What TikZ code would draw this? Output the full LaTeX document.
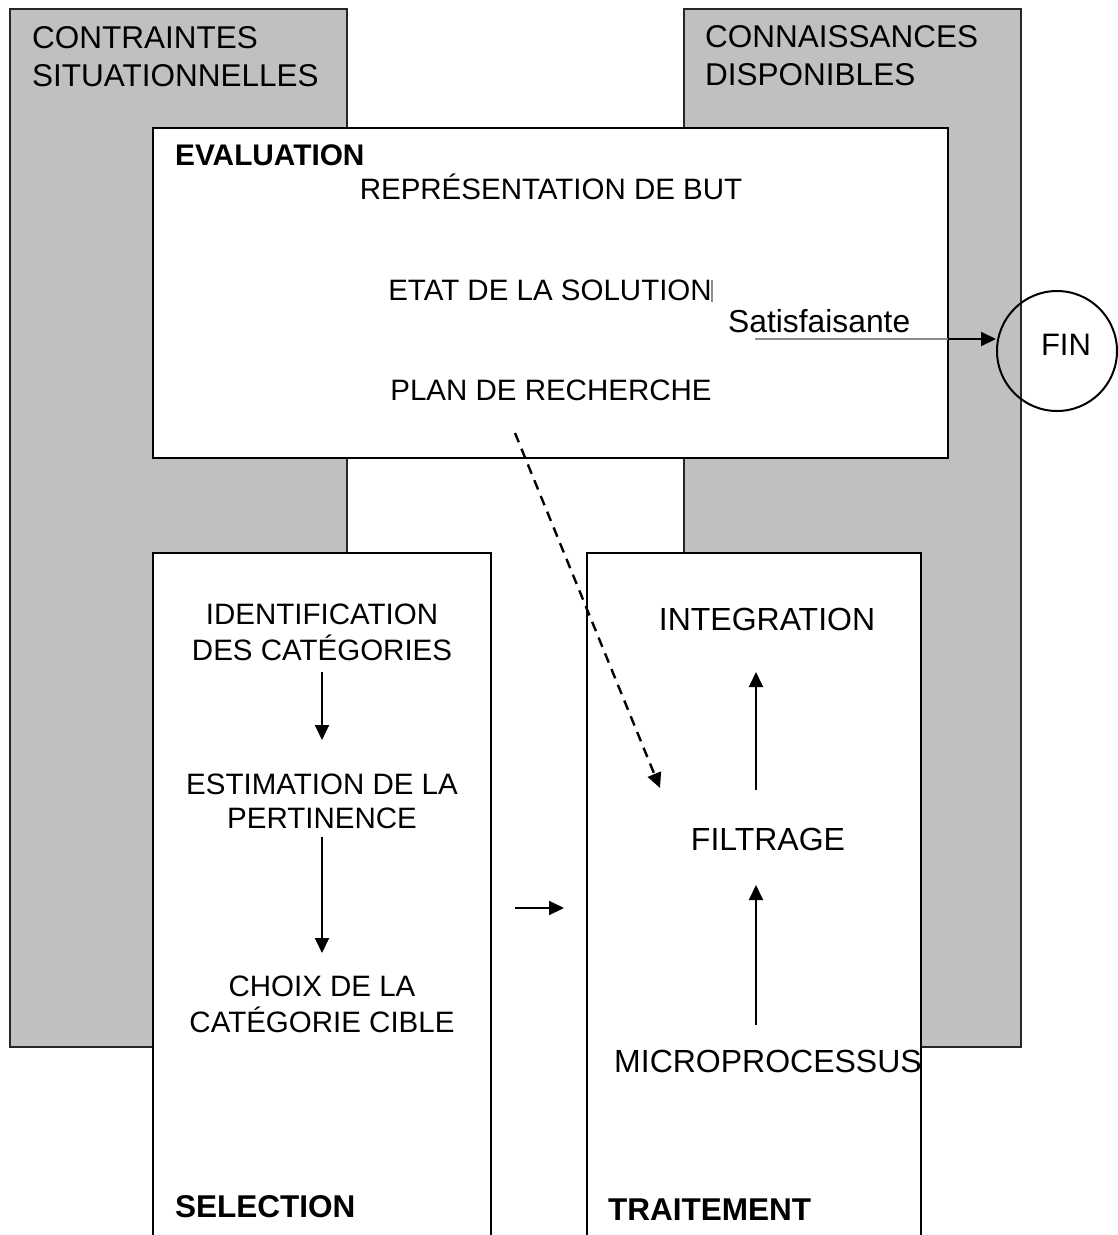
\documentclass[tikz,border=0pt]{standalone}
\usepackage{fontspec}
\setmainfont{Liberation Sans}
\usetikzlibrary{arrows.meta}
\definecolor{graybg}{HTML}{C0C0C0}
\definecolor{thingray}{HTML}{8C8C8C}
\newcommand{\twolines}[2]{\begin{tabular}[b]{@{}c@{}}#1\\#2\end{tabular}}
\begin{document}
\begin{tikzpicture}[x=1pt,y=-1pt,
  graybox/.style={draw=black!85,fill=graybg,line width=2pt},
  whitebox/.style={draw=black,fill=white,line width=2.2pt},
  lbl/.style={font=\fontsize{29.5}{33.5}\selectfont,inner sep=0pt,anchor=base},
  tlbl/.style={font=\fontsize{32}{36}\selectfont,inner sep=0pt,anchor=base},
  biglbl/.style={font=\fontsize{31.5}{38.5}\selectfont,inner sep=0pt,anchor=base west},
  ttl/.style={font=\fontsize{31.5}{36}\selectfont\bfseries,inner sep=0pt,anchor=base west},
  arr/.style={-{Triangle[length=15pt,width=14pt]},line width=2pt}
]
\useasboundingbox (0,0) rectangle (1118,1235);
% gray frames
\draw[graybox] (10,9) rectangle (347,1047);
\draw[graybox] (684,9) rectangle (1021,1047);
\node[biglbl] (cs1) at (32,48) {CONTRAINTES};
\node[biglbl] (cs2) at (32,86) {SITUATIONNELLES};
\node[biglbl] (cd1) at (705,47) {CONNAISSANCES};
\node[biglbl] (cd2) at (705,85) {DISPONIBLES};
% evaluation box
\draw[whitebox] (153,128) rectangle (948,458);
\node[lbl,anchor=base west,font=\fontsize{29.8}{33.5}\selectfont\bfseries] (eval) at (175,165) {EVALUATION};
\node[lbl] (but) at (551,199) {REPRÉSENTATION DE BUT};
\node[lbl] (etat) at (550,300) {ETAT DE LA SOLUTION};
\node[lbl] (plan) at (551,400) {PLAN DE RECHERCHE};
\node[inner sep=0pt,font=\fontsize{31.8}{36}\selectfont,anchor=base west] (sat) at (728,332) {Satisfaisante};
\draw[thingray,line width=1.2pt] (712,280) -- (712,302);
% FIN
\node[draw,circle,line width=2pt,minimum size=120pt,inner sep=0pt] (fin) at (1057,351) {};
\node[lbl,font=\fontsize{31}{36}\selectfont] (fint) at (1066,355) {FIN};
\coordinate (satstart) at (755,339);
\coordinate (satmid) at (948,339);
\draw[thingray,line width=1.5pt] (satstart) -- (satmid);
\draw[arr] (satmid) -- (fin.west |- satmid);
% selection box
\fill[white] (153,553) rectangle (491,1235);
\draw[line width=2.2pt] (153,1236) -- (153,553) -- (491,553) -- (491,1236);
% traitement box
\fill[white] (587,553) rectangle (921,1235);
\draw[line width=2.2pt] (587,1236) -- (587,553) -- (921,553) -- (921,1236);
% selection texts
\node[lbl] (ident) at (322,660) {\twolines{IDENTIFICATION}{DES CATÉGORIES}};
\node[lbl] (estim) at (322,828) {\twolines{ESTIMATION DE LA}{PERTINENCE}};
\node[lbl] (choix) at (322,1032) {\twolines{CHOIX DE LA}{CATÉGORIE CIBLE}};
\node[ttl] (sel) at (175,1217) {SELECTION};
\coordinate (a1s) at (322,672); \coordinate (a1e) at (322,740);
\coordinate (a2s) at (322,837); \coordinate (a2e) at (322,953);
\draw[arr] (a1s) -- (a1e);
\draw[arr] (a2s) -- (a2e);
% traitement texts
\node[tlbl] (integ) at (767,630) {INTEGRATION};
\node[tlbl] (filt) at (768,850) {FILTRAGE};
\node[tlbl] (micro) at (768,1072) {MICROPROCESSUS};
\node[ttl] (trait) at (608,1220) {TRAITEMENT};
\coordinate (b1s) at (756,790); \coordinate (b1e) at (756,672);
\coordinate (b2s) at (756,1025); \coordinate (b2e) at (756,885);
\draw[arr] (b1s) -- (b1e);
\draw[arr] (b2s) -- (b2e);
% selection -> traitement
\coordinate (hs) at (515,908); \coordinate (he) at (564,908);
\draw[arr] (hs) -- (he);
% dashed arrow from plan to filtrage
\coordinate (ds) at (515,433); \coordinate (de) at (660,788);
\draw[arr,line width=2.4pt,dash pattern=on 10pt off 7pt] (ds) -- (de);
\end{tikzpicture}
\end{document}
